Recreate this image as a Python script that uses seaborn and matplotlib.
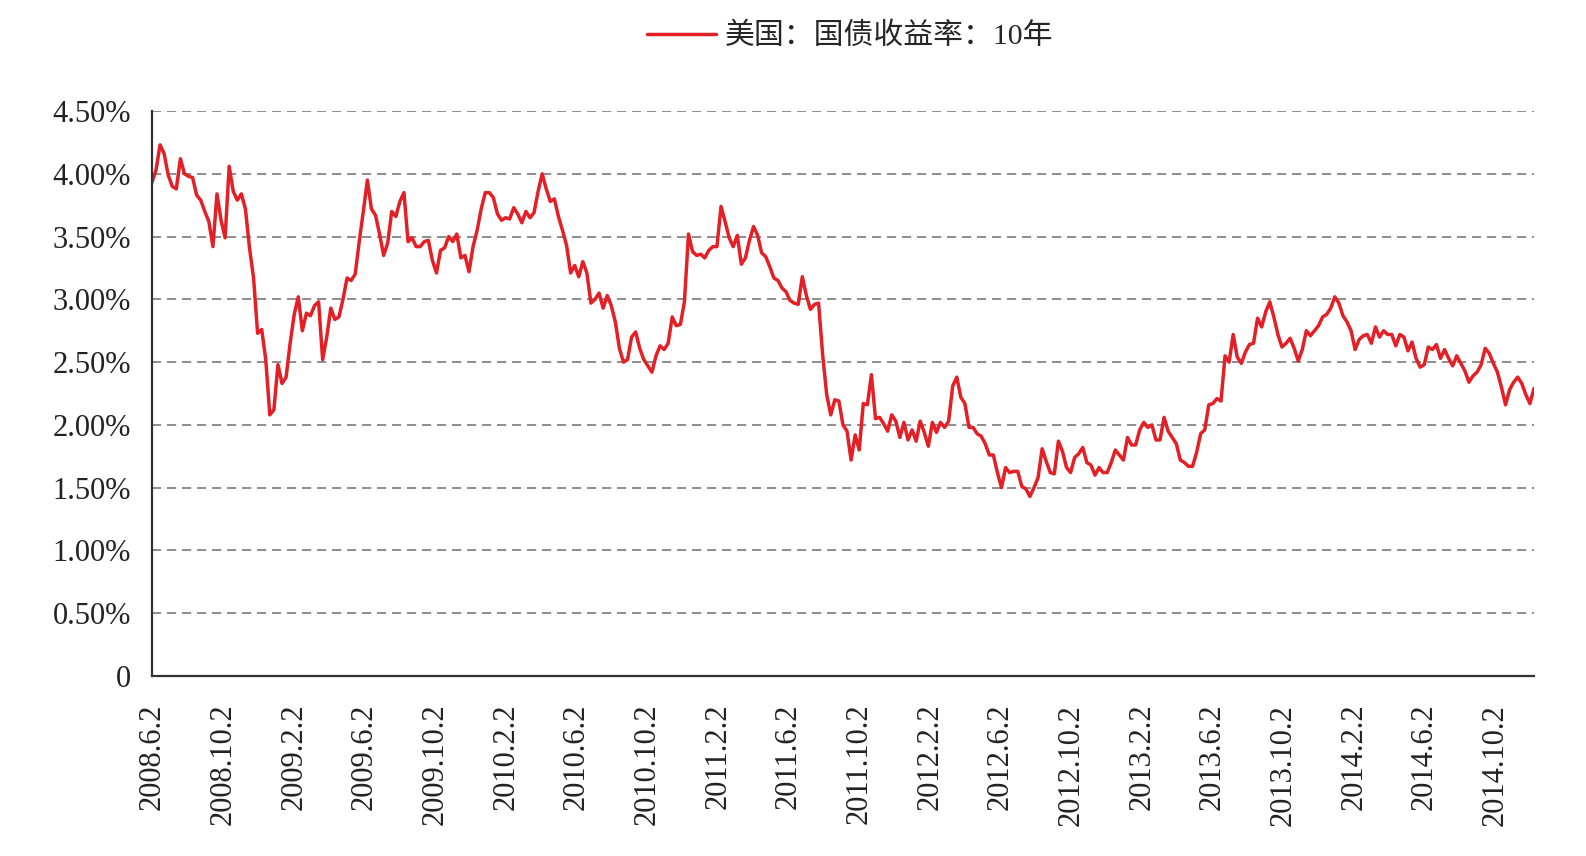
import pandas as pd
import numpy as np
import matplotlib.pyplot as plt
import seaborn as sns

# weekly readings (Mondays) of the US 10y treasury yield, in %
yield_2008 = [3.93, 4.03, 4.23, 4.16, 3.99,
              3.90, 3.88, 4.12, 4.00,
              3.98, 3.97, 3.83, 3.79,
              3.70, 3.62, 3.42, 3.84, 3.63,
              3.49, 4.06, 3.86, 3.79,
              3.84, 3.72, 3.41, 3.17,
              2.73, 2.76, 2.52, 2.08, 2.12]
yield_2009 = [2.48, 2.33, 2.38, 2.65,
              2.88, 3.02, 2.75, 2.89,
              2.87, 2.95, 2.98, 2.52, 2.70,
              2.93, 2.84, 2.86, 3.00,
              3.17, 3.15, 3.20, 3.46,
              3.70, 3.95, 3.72, 3.67, 3.52,
              3.35, 3.45, 3.70, 3.66,
              3.78, 3.85, 3.46, 3.49, 3.42,
              3.42, 3.46, 3.47, 3.31,
              3.21, 3.39, 3.41, 3.50,
              3.46, 3.52, 3.33, 3.35, 3.22,
              3.42, 3.55, 3.72, 3.85]
yield_2010 = [3.85, 3.81, 3.68, 3.63,
              3.65, 3.64, 3.73, 3.68,
              3.61, 3.70, 3.65, 3.69, 3.86,
              4.00, 3.88, 3.78, 3.80,
              3.66, 3.55, 3.43, 3.21,
              3.27, 3.18, 3.30, 3.21, 2.97,
              3.00, 3.05, 2.93, 3.03,
              2.95, 2.82, 2.61, 2.50, 2.52,
              2.70, 2.74, 2.61, 2.52,
              2.47, 2.42, 2.55, 2.63,
              2.60, 2.65, 2.86, 2.79, 2.80,
              2.98, 3.52, 3.38, 3.35]
yield_2011 = [3.36, 3.33, 3.39, 3.42, 3.42,
              3.74, 3.62, 3.49, 3.42,
              3.51, 3.28, 3.33, 3.47,
              3.58, 3.51, 3.37, 3.34,
              3.26, 3.17, 3.15, 3.09, 3.06,
              2.99, 2.97, 2.96, 3.18,
              3.03, 2.92, 2.96, 2.97,
              2.56, 2.24, 2.08, 2.20, 2.19,
              2.00, 1.95, 1.72, 1.92,
              1.80, 2.17, 2.16, 2.40, 2.05,
              2.06, 2.01, 1.95, 2.08,
              2.03, 1.90, 2.02, 1.88]
yield_2012 = [1.96, 1.87, 2.03, 1.94, 1.83,
              2.02, 1.94, 2.02, 1.98,
              2.03, 2.31, 2.38, 2.22,
              2.17, 1.98, 1.98, 1.93, 1.91,
              1.85, 1.76, 1.76, 1.62,
              1.50, 1.66, 1.62, 1.63,
              1.63, 1.51, 1.49, 1.43, 1.50,
              1.58, 1.81, 1.71, 1.62,
              1.61, 1.87, 1.79, 1.66,
              1.62, 1.74, 1.77, 1.82, 1.70,
              1.68, 1.60, 1.66, 1.62,
              1.62, 1.70, 1.80, 1.76, 1.72]
yield_2013 = [1.90, 1.84, 1.84, 1.96,
              2.02, 1.98, 2.00, 1.88,
              1.88, 2.06, 1.95, 1.90,
              1.85, 1.72, 1.70, 1.67, 1.67,
              1.78, 1.93, 1.96, 2.16,
              2.17, 2.21, 2.19, 2.55,
              2.50, 2.72, 2.54, 2.49, 2.58,
              2.64, 2.65, 2.85, 2.78,
              2.90, 2.98, 2.86, 2.72, 2.62,
              2.65, 2.69, 2.61, 2.51,
              2.60, 2.75, 2.71, 2.75,
              2.79, 2.86, 2.88, 2.93, 3.02]
yield_2014 = [2.97, 2.87, 2.82, 2.75,
              2.60, 2.68, 2.71, 2.72,
              2.65, 2.78, 2.70, 2.75, 2.72,
              2.72, 2.63, 2.72, 2.70,
              2.59, 2.66, 2.53, 2.46,
              2.48, 2.62, 2.60, 2.64, 2.53,
              2.60, 2.53, 2.47, 2.55,
              2.49, 2.43, 2.34, 2.39,
              2.42, 2.48, 2.61, 2.57, 2.49,
              2.42, 2.30, 2.16, 2.28,
              2.34, 2.38, 2.33, 2.24,
              2.17, 2.29]

year_starts = ['2008-06-02', '2009-01-05', '2010-01-04', '2011-01-03',
               '2012-01-02', '2013-01-07', '2014-01-06']
yearly = [yield_2008, yield_2009, yield_2010, yield_2011,
          yield_2012, yield_2013, yield_2014]

tick_labels = ['2008.6.2', '2008.10.2', '2009.2.2', '2009.6.2', '2009.10.2',
               '2010.2.2', '2010.6.2', '2010.10.2', '2011.2.2', '2011.6.2',
               '2011.10.2', '2012.2.2', '2012.6.2', '2012.10.2', '2013.2.2',
               '2013.6.2', '2013.10.2', '2014.2.2', '2014.6.2', '2014.10.2']
y_ticks = [0, 0.5, 1.0, 1.5, 2.0, 2.5, 3.0, 3.5, 4.0, 4.5]
y_labels = ['0', '0.50%', '1.00%', '1.50%', '2.00%', '2.50%',
            '3.00%', '3.50%', '4.00%', '4.50%']

series_name = '美国：国债收益率：10年'

frames = []
for start, vals in zip(year_starts, yearly):
    dates = pd.date_range(start, periods=len(vals), freq='7D')
    frames.append(pd.DataFrame({'date': dates, 'yield': vals}))
df = pd.concat(frames, ignore_index=True)

sns.set_style('white')
plt.rcParams['font.family'] = ['Liberation Serif', 'Noto Sans CJK SC', 'DejaVu Sans']

fig = plt.figure(figsize=(15.86, 8.56), dpi=100)
ax = fig.add_axes([0.0958, 0.2103, 0.8714, 0.6600])

sns.lineplot(data=df, x='date', y='yield', color='#e41f26', linewidth=2.5,
             label=series_name, ax=ax)

ax.set_ylim(0, 4.5)
ax.set_xlim(df['date'].iloc[0], df['date'].iloc[-1])
ax.set_yticks(y_ticks)
ax.set_yticklabels(y_labels)
tick_dates = pd.to_datetime(tick_labels, format='%Y.%m.%d')
ax.set_xticks(tick_dates)
ax.set_xticklabels(tick_labels, rotation=90)

ax.yaxis.grid(True, linestyle=(0, (5.5, 3.5)), color='#7a7a7a', linewidth=1.2)
ax.xaxis.grid(False)
ax.set_axisbelow(True)
ax.tick_params(axis='both', direction='in', length=8.5, width=1.2,
               labelsize=22, colors='#222222')
ax.tick_params(axis='x', pad=20)
ax.tick_params(axis='y', pad=15)

for side in ['top', 'right']:
    ax.spines[side].set_visible(False)
for side in ['left', 'bottom']:
    ax.spines[side].set_color('#333333')
    ax.spines[side].set_linewidth(1.6)

ax.set_xlabel('')
ax.set_ylabel('')

ax.legend(loc='upper center', bbox_to_anchor=(0.536, 1.005),
          bbox_transform=fig.transFigure, frameon=False,
          prop={'size': 21.5}, handlelength=2.3, handletextpad=0.3)

fig.savefig('out.png', dpi=100, facecolor='white')
